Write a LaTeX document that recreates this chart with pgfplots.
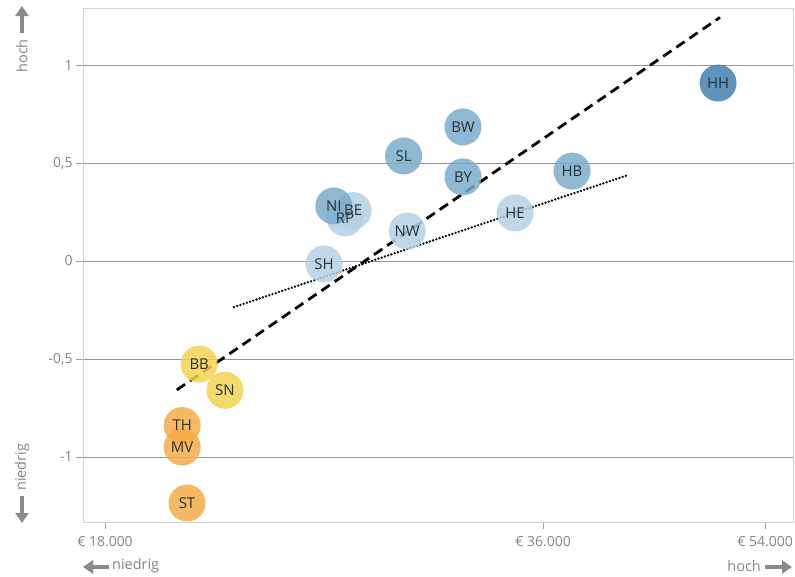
\documentclass[border=0pt]{standalone}
\usepackage{pgfplots}
\pgfplotsset{compat=1.18}
\usepackage{pgfplotstable}
\usepackage{fontspec}
\setmainfont{Open Sans}
\usetikzlibrary{arrows.meta}
\definecolor{cD}{HTML}{4380B1}
\definecolor{cM}{HTML}{7BACCA}
\definecolor{cL}{HTML}{B4D0E3}
\definecolor{cY}{HTML}{F4D251}
\definecolor{cO}{HTML}{F4AB46}
\definecolor{txt}{HTML}{858585}
\definecolor{arr}{HTML}{8A8A8A}
\definecolor{lab}{HTML}{26313A}
% x: position on the chart's GDP scale (18 = 18.000, 36 = 36.000, 45.12 = 54.000)
\pgfplotstableread{
x y lab cls
43.19 0.908 HH d
37.19 0.459 HB m
34.85 0.245 HE l
32.71 0.684 BW m
32.71 0.429 BY m
30.27 0.536 SL m
30.42 0.153 NW l
28.20 0.257 BE l
27.86 0.220 RP l
27.40 0.281 NI m
27.00 -0.015 SH l
21.87 -0.526 BB y
22.93 -0.660 SN y
21.17 -0.840 TH o
21.17 -0.950 MV o
21.37 -1.235 ST o
}\states
\begin{document}
\begin{tikzpicture}
\begin{axis}[
  at={(83bp,-522bp)}, anchor=south west,
  scale only axis, width=710bp, height=514bp,
  xmin=17.096, xmax=46.27, ymin=-1.332, ymax=1.291,
  xtick={18,36,45.123}, xticklabels={€ 18.000, € 36.000, € 54.000},
  ytick={-1,-0.5,0,0.5,1}, yticklabels={{-1},{-0,5},{0},{0,5},{1}},
  xtick pos=lower, ytick pos=left, tick align=outside,
  major tick length=7bp,
  tick style={draw=gray!75, line width=0.8pt},
  ymajorgrids, grid style={draw=gray!85, line width=0.7pt},
  axis line style={draw=gray!35, line width=0.8pt},
  tick label style={font=\fontsize{14}{16}\selectfont, text=txt},
  xticklabel style={yshift=-4bp},
  clip=false,
]
\addplot[black, line width=2.8pt, dash pattern=on 10pt off 6pt] coordinates {(20.95,-0.658) (43.27,1.243)};
\addplot[black, line width=2.6pt, line cap=round, dash pattern=on 0pt off 3.4pt] coordinates {(23.30,-0.235) (39.41,0.435)};
\addplot[scatter, only marks, mark=*, mark size=18.5bp,
  scatter src=explicit symbolic,
  scatter/classes={
    d={mark=*, cD, draw opacity=0, fill opacity=0.85},
    m={mark=*, cM, draw opacity=0, fill opacity=0.85},
    l={mark=*, cL, draw opacity=0, fill opacity=0.85},
    y={mark=*, cY, draw opacity=0, fill opacity=0.85},
    o={mark=*, cO, draw opacity=0, fill opacity=0.85}}]
  table[x=x, y=y, meta=cls] {\states};
\addplot[draw=none, mark=none, nodes near coords, point meta=explicit symbolic,
  every node near coord/.append style={anchor=center, text=lab, font=\fontsize{15}{17}\selectfont}]
  table[x=x, y=y, meta=lab] {\states};
\end{axis}
\begin{scope}[txt, font=\fontsize{14.5}{16}\selectfont]
  \draw[arr, line width=3.4bp, -{Triangle[length=10bp,width=13bp]}] (22bp,-33bp) -- (22bp,-6bp);
  \node[rotate=90, anchor=east, inner sep=0pt] at (22bp,-39bp) {hoch};
  \node[rotate=90, anchor=west, inner sep=0pt] at (22bp,-491bp) {niedrig};
  \draw[arr, line width=3.4bp, -{Triangle[length=10bp,width=13bp]}] (22bp,-496bp) -- (22bp,-523bp);
  \draw[arr, line width=3.4bp, -{Triangle[length=10bp,width=13bp]}] (109bp,-567bp) -- (83bp,-567bp);
  \node[anchor=west, inner sep=0pt] at (112bp,-566bp) {niedrig};
  \node[anchor=east, inner sep=0pt] at (761bp,-566bp) {hoch};
  \draw[arr, line width=3.4bp, -{Triangle[length=10bp,width=13bp]}] (765bp,-567bp) -- (792bp,-567bp);
\end{scope}
\pgfresetboundingbox
\useasboundingbox (0,0) rectangle (795bp,-577bp);
\end{tikzpicture}
\end{document}
